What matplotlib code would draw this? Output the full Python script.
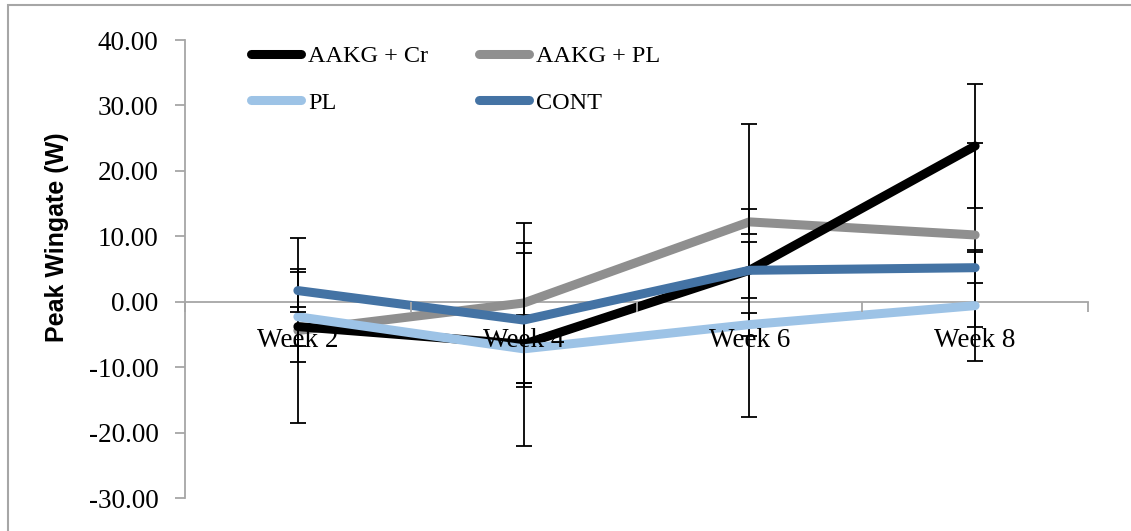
import matplotlib.pyplot as plt
import numpy as np
from matplotlib.patches import Rectangle
from matplotlib.lines import Line2D

# données
weeks = ["Week 2", "Week 4", "Week 6", "Week 8"]
series_names = ["AAKG + Cr", "AAKG + PL", "PL", "CONT"]

aakg_cr = [-3.8, -6.5, 4.8, 23.8]
aakg_pl = [-4.4, -0.2, 12.2, 10.2]
pl = [-2.3, -7.2, -3.5, -0.6]
cont = [1.7, -2.8, 4.8, 5.2]

err_aakg_cr = [3.0, 15.5, 22.4, 9.5]
err_aakg_pl = [14.1, 12.2, 1.9, 14.0]
err_pl = [6.9, 5.2, 1.7, 8.5]
err_cont = [3.3, 10.3, 4.3, 2.35]

colors = ["#000000", "#8f8f8f", "#9dc3e6", "#4473a4"]
zorders = [4, 3, 5, 6]

serif = ["Liberation Serif", "DejaVu Serif"]
plt.rcParams["font.family"] = serif

W, H = 1131, 531
fig = plt.figure(figsize=(W / 100, H / 100), dpi=100)
fig.patch.set_facecolor("white")

# cadre extérieur (seuls les bords gauche et haut sont visibles)
fig.patches.append(Rectangle((8 / W, -0.1), 1.2, 1 - 5 / H + 0.1,
                             transform=fig.transFigure, fill=False,
                             edgecolor="#a6a6a6", linewidth=1.5))

ax = fig.add_axes([185 / W, 1 - 498 / H, (1088 - 185) / W, (498 - 40) / H])
x = np.arange(len(weeks))

data = [aakg_cr, aakg_pl, pl, cont]
errs = [err_aakg_cr, err_aakg_pl, err_pl, err_cont]
handles = []
for name, vals, e, c, z in zip(series_names, data, errs, colors, zorders):
    ax.errorbar(x, vals, yerr=e, color=c, linewidth=6.5, solid_capstyle="round",
                ecolor="black", elinewidth=1.3, capsize=5.5, capthick=1.3,
                zorder=z)
    handles.append(Line2D([], [], color=c, linewidth=6.5,
                          solid_capstyle="round", label=name))

ax.set_xlim(-0.5, 3.5)
ax.set_ylim(-30, 40)
ax.set_yticks(np.arange(-30, 41, 10))
ax.set_yticklabels([f"{v:.2f}" for v in np.arange(-30, 41, 10)])

# axe des x à y = 0, graduations entre les catégories
ax.spines["bottom"].set_position(("data", 0))
ax.spines["top"].set_visible(False)
ax.spines["right"].set_visible(False)
for s in ["bottom", "left"]:
    ax.spines[s].set_color("#a6a6a6")
    ax.spines[s].set_linewidth(1.3)
ax.set_xticks(np.arange(-0.5, 3.6, 1.0))
ax.set_xticklabels([])
ax.set_xticks(x, minor=True)
ax.set_xticklabels(weeks, minor=True, fontsize=19.5)
ax.tick_params(axis="x", which="major", direction="out", length=7,
               color="#a6a6a6", width=1.3)
ax.tick_params(axis="x", which="minor", length=0, pad=19)
ax.tick_params(axis="y", direction="out", length=7, color="#a6a6a6",
               width=1.3, labelsize=19.5, pad=12)
ax.xaxis.set_zorder(10)

fig.text(57 / W, 1 - 237 / H, "Peak Wingate (W)", rotation=90,
         ha="center", va="center", fontsize=18, fontweight="bold",
         family=["Liberation Sans", "DejaVu Sans"])

# ordre pour remplir ligne par ligne
order = [0, 2, 1, 3]
leg = fig.legend([handles[i] for i in order], [series_names[i] for i in order],
                 ncol=2, loc="upper left", bbox_to_anchor=(251 / W, 1 - 45 / H),
                 frameon=False, fontsize=17.5, handlelength=2.05,
                 handletextpad=0.3, columnspacing=2.1, labelspacing=1.02,
                 borderpad=0, borderaxespad=0)

fig.savefig("out.png", dpi=100, facecolor="white")
